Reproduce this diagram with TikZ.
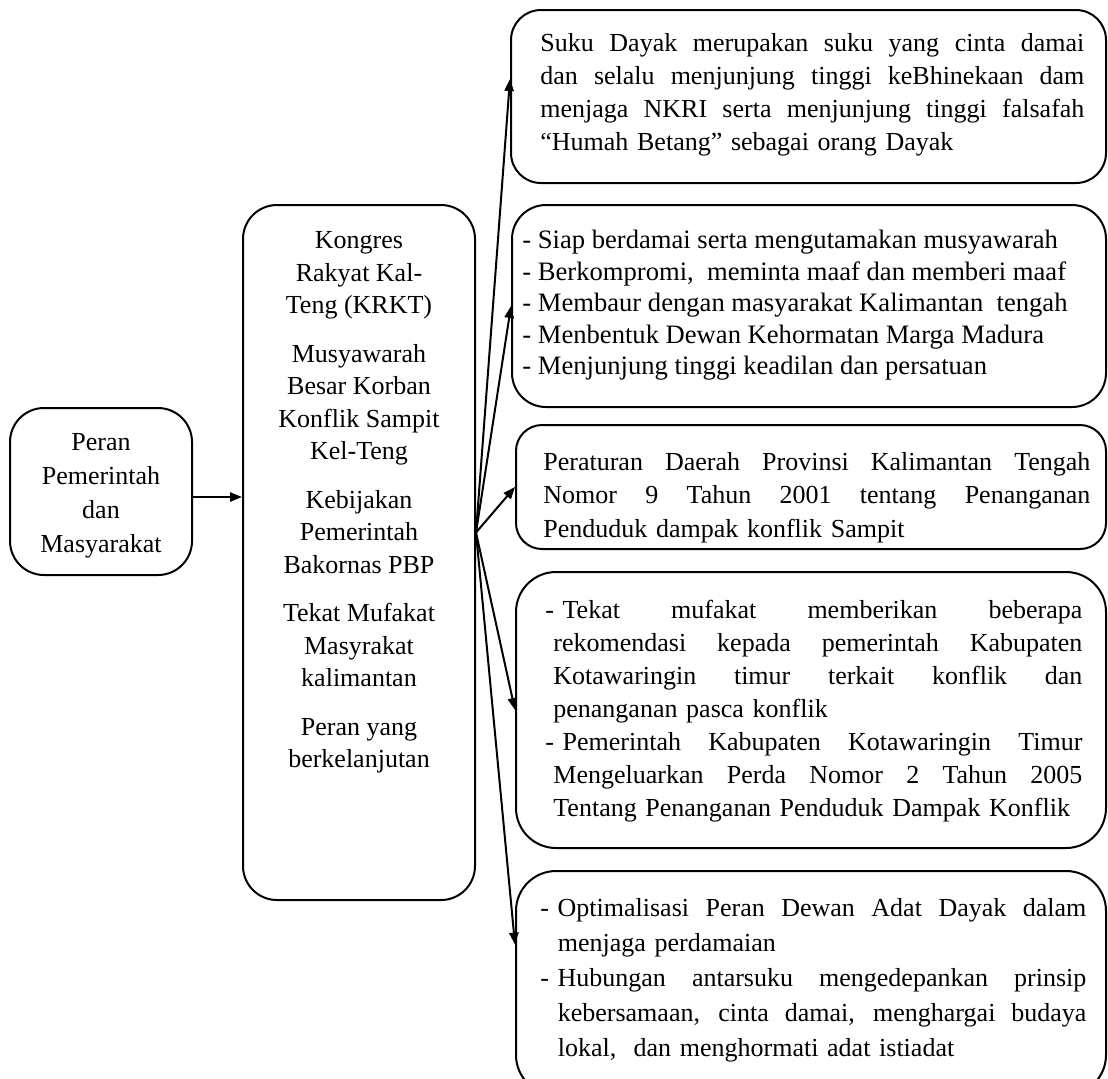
\documentclass[tikz,border=0pt]{standalone}
\usepackage{fontspec}
\setmainfont{Liberation Serif}
\usetikzlibrary{arrows.meta,fit,calc}
% one justified line: interword spaces stretched to the width \jw
\newlength\jw
\newcommand\Jln[1]{{\spaceskip=0.25em plus 1fil minus 0.08em\makebox[\jw][s]{#1}}}
\begin{document}
\begin{tikzpicture}[x=0.5pt,y=-0.5pt,
  every node/.style={font=\fontsize{13}{16.5}\selectfont},
  panel/.style={draw,line width=1pt,rounded corners=#1,inner sep=0pt},
  panel/.default=16pt,
  txt/.style={inner sep=0pt,anchor=north west,align=left},
  link/.style={line width=1pt,-{Triangle[length=6pt,width=4.6pt]}}]
\useasboundingbox (0,0) rectangle (1108,1078);
\clip (0,0) rectangle (1108,1078);

% frames
\node[panel=17pt, fit={(10,408)(192,575)}] (src) {};
\node[panel=17pt, fit={(243,205)(475,900)}] (hub) {};
\node[panel=15pt, fit={(511,10)(1106,183)}] (b1) {};
\node[panel=17pt, fit={(512,205)(1106,407)}] (b2) {};
\node[panel=13pt, fit={(516,425)(1106,549)}] (b3) {};
\node[panel=20pt, fit={(516,572)(1106,848)}] (b4) {};
\node[panel=20pt, fit={(516,871)(1106,1095)}] (b5) {};

% texts
\node[inner sep=0pt,anchor=north,align=center,
      font=\fontsize{13}{17}\selectfont] (srct) at (101,433)
  {Peran\\Pemerintah\\dan\\Masyarakat};

\node[inner sep=0pt,anchor=north,align=center,
      font=\fontsize{13}{16.25}\selectfont] (hubt) at (359,231.5)
  {Kongres\\Rakyat Kal-\\Teng (KRKT)\\[8pt]
   Musyawarah\\Besar Korban\\Konflik Sampit\\Kel-Teng\\[8pt]
   Kebijakan\\Pemerintah\\Bakornas PBP\\[8pt]
   Tekat Mufakat\\Masyrakat\\kalimantan\\[8pt]
   Peran yang\\berkelanjutan};

\node[txt,text width=272pt] (t1) at (540,33)
  {\setlength\jw{272pt}%
   \Jln{Suku Dayak merupakan suku yang cinta damai}\\
   \Jln{dan selalu menjunjung tinggi keBhinekaan dam}\\
   \Jln{menjaga NKRI serta menjunjung tinggi falsafah}\\
   “Humah Betang” sebagai orang Dayak};

\node[txt,font=\fontsize{13.3}{15.75}\selectfont] (t2) at (522,230)
  {- Siap berdamai serta mengutamakan musyawarah\\
   - Berkompromi,\ \ meminta maaf dan memberi maaf\\
   - Membaur dengan masyarakat Kalimantan\ \ tengah\\
   - Menbentuk Dewan Kehormatan Marga Madura\\
   - Menjunjung tinggi keadilan dan persatuan};

\node[txt,text width=273.5pt,font=\fontsize{13}{16.75}\selectfont] (t3) at (543,452)
  {\setlength\jw{273.5pt}%
   \Jln{Peraturan Daerah Provinsi Kalimantan Tengah}\\
   \Jln{Nomor 9 Tahun 2001 tentang Penanganan}\\
   Penduduk dampak konflik Sampit};

\node[txt,text width=268.5pt] (t4) at (545,599.5)
  {\setlength\jw{268.5pt}%
   \Jln{-\hspace*{0.33em}Tekat mufakat memberikan beberapa}\\
   \Jln{\hspace*{4pt}rekomendasi kepada pemerintah Kabupaten}\\
   \Jln{\hspace*{4pt}Kotawaringin timur terkait konflik dan}\\
   \hspace*{4pt}penanganan pasca konflik\\
   \Jln{-\hspace*{0.33em}Pemerintah Kabupaten Kotawaringin Timur}\\
   \Jln{\hspace*{4pt}Mengeluarkan Perda Nomor 2 Tahun 2005}\\
   \hspace*{4pt}Tentang Penanganan Penduduk Dampak Konflik};

\node[txt,text width=273pt,font=\fontsize{13}{17.5}\selectfont] (t5) at (540,898)
  {\setlength\jw{273pt}%
   \Jln{-\hspace*{0.33em}Optimalisasi Peran Dewan Adat Dayak dalam}\\
   \hspace*{0.67em}menjaga perdamaian\\
   \Jln{-\hspace*{0.33em}Hubungan antarsuku mengedepankan prinsip}\\
   \Jln{\hspace*{0.67em}kebersamaan, cinta damai, menghargai budaya}\\
   \hspace*{0.67em}lokal,\ \ dan menghormati adat istiadat};

% connectors
\draw[link] ($(src.east)+(0,5.5)$) -- ($(hub.west)+(0,-55.5)$);
\coordinate (fan) at ($(hub.east)+(0,-20)$);
\draw[link] (fan) -- ($(b1.north west)!0.4!(b1.south west)$);
\draw[link] (fan) -- (b2.west);
\draw[link] (fan) -- (b3.west);
\draw[link] (fan) -- (b4.west);
\draw[link] (fan) -- ($(b5.north west)!0.33!(b5.south west)$);
\end{tikzpicture}
\end{document}
